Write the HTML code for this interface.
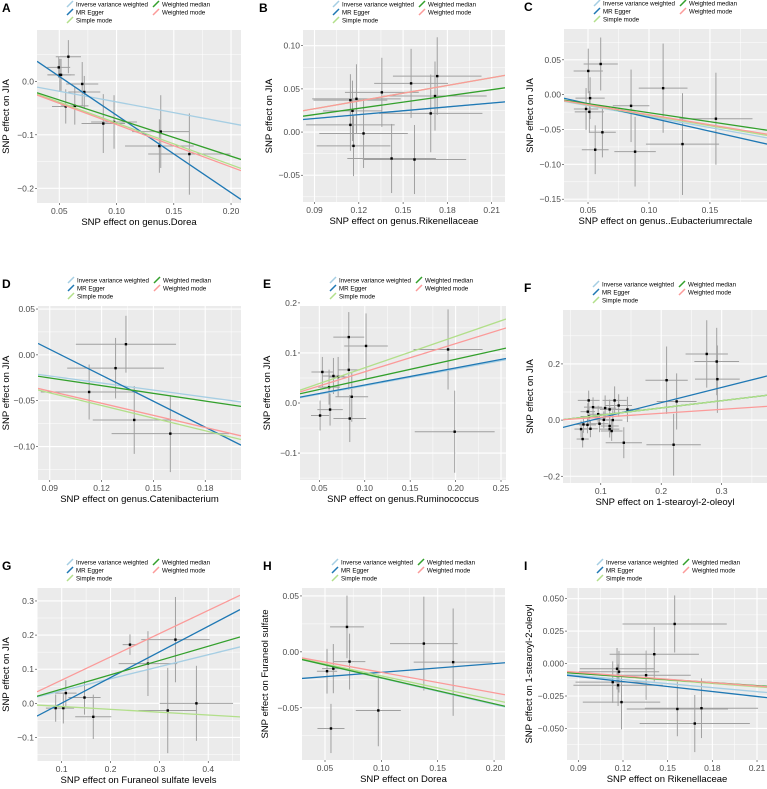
<!DOCTYPE html>
<html><head><meta charset="utf-8"><style>
html,body{margin:0;padding:0;background:#fff;}
svg{display:block;font-family:"Liberation Sans",Arial,sans-serif;}
</style></head><body>
<svg id="fig" width="767" height="789" viewBox="0 0 767 789" xmlns="http://www.w3.org/2000/svg"></svg>
<script>
// ---- data ----
const methods = ["Inverse variance weighted","MR Egger","Simple mode","Weighted median","Weighted mode"];
const methodColors = ["#a6cee3","#1f78b4","#b2df8a","#33a02c","#fb9a99"];

const A_x=[0.0495,0.0579,0.0504,0.0515,0.070,0.0718,0.0556,0.0635,0.0884,0.0978,0.1374,0.1386,0.1636];
const A_y=[0.026,0.046,0.012,0.012,-0.005,-0.020,-0.047,-0.046,-0.079,-0.076,-0.121,-0.094,-0.136];
const A_sx=[0.010,0.011,0.010,0.012,0.014,0.014,0.012,0.012,0.019,0.020,0.030,0.025,0.036];
const A_sy=[0.020,0.031,0.030,0.030,0.041,0.030,0.032,0.035,0.055,0.050,0.050,0.068,0.076];
const A_slope=[-0.40,-1.449,-0.78,-0.70,-0.794];
const A_int=[0.0014,0.0816,0,0,-0.0014];
const A_xticks=[0.05,0.10,0.15,0.20], A_xtl=["0.05","0.10","0.15","0.20"];
const A_yticks=[0.0,-0.1,-0.2], A_ytl=["0.0","\u22120.1","\u22120.2"];

const B_x=[0.1143,0.1143,0.1157,0.1184,0.1164,0.1232,0.1356,0.1554,0.1731,0.1716,0.1687,0.1422,0.1577];
const B_y=[0.037,0.0083,0.0246,0.0385,-0.016,-0.0016,0.046,0.0564,0.0648,0.0417,0.0216,-0.0306,-0.0318];
const B_sx=[0.025,0.030,0.020,0.030,0.025,0.030,0.025,0.025,0.030,0.035,0.035,0.030,0.035];
const B_sy=[0.030,0.030,0.035,0.040,0.035,0.040,0.040,0.040,0.045,0.040,0.045,0.040,0.040];
const B_slope=[0.149,0.149,0.30,0.2405,0.30];
const B_int=[0.0023,0.0023,0,-0.0014,0];
const B_xticks=[0.09,0.12,0.15,0.18,0.21], B_xtl=["0.09","0.12","0.15","0.18","0.21"];
const B_yticks=[0.10,0.05,0.00,-0.05], B_ytl=["0.10","0.05","0.00","\u22120.05"];

const C_x=[0.0502,0.0604,0.0517,0.0484,0.0511,0.0618,0.0559,0.0853,0.0886,0.1116,0.1275,0.1549];
const C_y=[0.034,0.044,-0.005,-0.0205,-0.0247,-0.054,-0.079,-0.016,-0.0818,0.0093,-0.0709,-0.0345];
const C_sx=[0.012,0.014,0.012,0.010,0.012,0.011,0.011,0.015,0.017,0.020,0.030,0.030];
const C_sy=[0.032,0.038,0.030,0.030,0.030,0.036,0.035,0.052,0.050,0.064,0.073,0.066];
const C_slope=[-0.315,-0.395,-0.297,-0.259,-0.288];
const C_int=[0,0.0068,0,0,0];
const C_xticks=[0.05,0.10,0.15], C_xtl=["0.05","0.10","0.15"];
const C_yticks=[0.05,0.00,-0.05,-0.10,-0.15], C_ytl=["0.05","0.00","\u22120.05","\u22120.10","\u22120.15"];

const D_x=[0.1341,0.1281,0.1128,0.1389,0.1598];
const D_y=[0.0116,-0.0145,-0.0405,-0.071,-0.0859];
const D_sx=[0.029,0.028,0.028,0.024,0.034];
const D_sy=[0.031,0.033,0.030,0.037,0.042];
const D_slope=[-0.256,-0.944,-0.46,-0.28,-0.44];
const D_int=[0,0.091,0,0,0];
const D_xticks=[0.09,0.12,0.15,0.18], D_xtl=["0.09","0.12","0.15","0.18"];
const D_yticks=[0.05,0.00,-0.05,-0.10], D_ytl=["0.05","0.00","\u22120.05","\u22120.10"];

const E_x=[0.0533,0.0824,0.1014,0.0824,0.0655,0.0707,0.0607,0.0857,0.0618,0.0508,0.0835,0.1917,0.1990];
const E_y=[0.062,0.1317,0.114,0.0663,0.054,0.052,0.0317,0.0125,-0.0131,-0.025,-0.031,0.107,-0.0573];
const E_sx=[0.012,0.017,0.024,0.012,0.012,0.010,0.012,0.018,0.014,0.010,0.018,0.038,0.044];
const E_sy=[0.030,0.050,0.065,0.040,0.036,0.040,0.035,0.050,0.032,0.030,0.047,0.080,0.082];
const E_slope=[0.335,0.34,0.627,0.402,0.563];
const E_int=[0.001,0.002,0.0076,0.007,0.006];
const E_xticks=[0.05,0.10,0.15,0.20,0.25], E_xtl=["0.05","0.10","0.15","0.20","0.25"];
const E_yticks=[0.2,0.1,0.0,-0.1], E_ytl=["0.2","0.1","0.0","\u22120.1"];

const F_x=[0.2753,0.2918,0.2929,0.2089,0.2255,0.2205,0.1381,0.080,0.0872,0.1072,0.1229,0.1296,0.1147,0.1441,0.0785,0.0806,0.0713,0.078,0.0957,0.105,0.1199,0.0979,0.0829,0.0674,0.1147,0.1147,0.118,0.070];
const F_y=[0.2355,0.2085,0.1457,0.142,0.0664,-0.0877,-0.0806,0.07,0.046,0.0428,0.07,0.052,0.038,0.038,0.030,0.013,-0.0153,-0.017,0.021,0.001,0.0,-0.013,-0.031,-0.032,-0.021,-0.032,-0.039,-0.0675];
const F_sx=[0.035,0.037,0.037,0.035,0.033,0.045,0.030,0.018,0.015,0.018,0.020,0.022,0.016,0.020,0.012,0.014,0.012,0.014,0.015,0.017,0.016,0.015,0.012,0.011,0.015,0.016,0.018,0.010];
const F_sy=[0.12,0.12,0.12,0.12,0.10,0.11,0.055,0.035,0.035,0.045,0.05,0.04,0.035,0.045,0.03,0.03,0.03,0.03,0.03,0.03,0.035,0.03,0.03,0.03,0.03,0.03,0.035,0.03];
const F_slope=[0.257,0.542,0.257,0.257,0.141];
const F_int=[-0.008,-0.0463,-0.008,-0.008,-0.004];
const F_xticks=[0.1,0.2,0.3], F_xtl=["0.1","0.2","0.3"];
const F_yticks=[0.2,0.0,-0.2], F_ytl=["0.2","0.0","\u22120.2"];

const G_x=[0.2398,0.3329,0.2766,0.1085,0.1467,0.0877,0.1034,0.1647,0.3171,0.3758];
const G_y=[0.172,0.1867,0.1165,0.030,0.017,-0.014,-0.014,-0.0395,-0.021,0.0];
const G_sx=[0.015,0.070,0.060,0.022,0.033,0.020,0.022,0.037,0.060,0.075];
const G_sy=[0.030,0.125,0.095,0.038,0.050,0.040,0.045,0.065,0.125,0.110];
const G_slope=[0.352,0.751,-0.083,0.418,0.681];
const G_int=[0.0016,-0.0746,-0.001,0,0];
const G_xticks=[0.1,0.2,0.3,0.4], G_xtl=["0.1","0.2","0.3","0.4"];
const G_yticks=[0.3,0.2,0.1,0.0,-0.1], G_ytl=["0.3","0.2","0.1","0.0","\u22120.1"];

const H_x=[0.0695,0.0718,0.0518,0.0574,0.0553,0.0973,0.1377,0.1637];
const H_y=[0.0223,-0.0087,-0.0173,-0.015,-0.0685,-0.0524,0.0074,-0.0092];
const H_sx=[0.015,0.014,0.009,0.010,0.012,0.020,0.030,0.035];
const H_sy=[0.028,0.025,0.020,0.022,0.022,0.032,0.042,0.048];
const H_slope=[-0.235,0.078,-0.215,-0.232,-0.183];
const H_int=[0,-0.0261,0,0,0];
const H_xticks=[0.05,0.10,0.15,0.20], H_xtl=["0.05","0.10","0.15","0.20"];
const H_yticks=[0.05,0.00,-0.05], H_ytl=["0.05","0.00","\u22120.05"];

const I_x=[0.1547,0.1410,0.116,0.1173,0.1355,0.1131,0.1167,0.119,0.1565,0.1727,0.1682];
const I_y=[0.0305,0.0072,-0.004,-0.0063,-0.009,-0.0143,-0.0167,-0.0297,-0.035,-0.0344,-0.0462];
const I_sx=[0.035,0.030,0.025,0.027,0.030,0.025,0.030,0.026,0.034,0.038,0.037];
const I_sy=[0.022,0.021,0.016,0.016,0.019,0.016,0.016,0.021,0.021,0.023,0.022];
const I_slope=[-0.103,-0.128,-0.085,-0.078,-0.087];
const I_int=[0,0.0015,0,-0.0006,0.001];
const I_xticks=[0.09,0.12,0.15,0.18,0.21], I_xtl=["0.09","0.12","0.15","0.18","0.21"];
const I_yticks=[0.050,0.025,0.000,-0.025,-0.050], I_ytl=["0.050","0.025","0.000","\u22120.025","\u22120.050"];

// ---- layout (pixel boxes + axis limits) ----
const panels=[
 {id:"a",letter:"A",lx:2,L:37,T:30,R:241,B:203,xlim:[0.0305,0.2087],ylim:[-0.2275,0.0959],x:A_x,y:A_y,sx:A_sx,sy:A_sy,sl:A_slope,it:A_int,xt:A_xticks,xtl:A_xtl,yt:A_yticks,ytl:A_ytl,xlab:"SNP effect on genus.Dorea",ylab:"SNP effect on JIA",yx:5},
 {id:"b",letter:"B",lx:259,L:303,T:30,R:505,B:202,xlim:[0.0822,0.219],ylim:[-0.081,0.1182],x:B_x,y:B_y,sx:B_sx,sy:B_sy,sl:B_slope,it:B_int,xt:B_xticks,xtl:B_xtl,yt:B_yticks,ytl:B_ytl,xlab:"SNP effect on genus.Rikenellaceae",ylab:"SNP effect on JIA",yx:268},
 {id:"c",letter:"C",lx:524,L:564,T:29,R:767,B:202,xlim:[0.0303,0.1968],ylim:[-0.154,0.0942],x:C_x,y:C_y,sx:C_sx,sy:C_sy,sl:C_slope,it:C_int,xt:C_xticks,xtl:C_xtl,yt:C_yticks,ytl:C_ytl,xlab:"SNP effect on genus..Eubacteriumrectale",ylab:"SNP effect on JIA",yx:529},
 {id:"d",letter:"D",lx:2,L:38,T:306,R:241,B:480,xlim:[0.0832,0.2007],ylim:[-0.1365,0.0533],x:D_x,y:D_y,sx:D_sx,sy:D_sy,sl:D_slope,it:D_int,xt:D_xticks,xtl:D_xtl,yt:D_yticks,ytl:D_ytl,xlab:"SNP effect on genus.Catenibacterium",ylab:"SNP effect on JIA",yx:5},
 {id:"e",letter:"E",lx:263,L:300,T:306,R:506,B:480,xlim:[0.0287,0.2555],ylim:[-0.1538,0.1938],x:E_x,y:E_y,sx:E_sx,sy:E_sy,sl:E_slope,it:E_int,xt:E_xticks,xtl:E_xtl,yt:E_yticks,ytl:E_ytl,xlab:"SNP effect on genus.Ruminococcus",ylab:"SNP effect on JIA",yx:266},
 {id:"f",letter:"F",lx:524,L:563,T:310,R:767,B:483,xlim:[0.0375,0.375],ylim:[-0.224,0.392],x:F_x,y:F_y,sx:F_sx,sy:F_sy,sl:F_slope,it:F_int,xt:F_xticks,xtl:F_xtl,yt:F_yticks,ytl:F_ytl,xlab:"SNP effect on 1-stearoyl-2-oleoyl",ylab:"SNP effect on JIA",yx:529,order:[0,3,1,2,4]},
 {id:"g",letter:"G",lx:2,L:37,T:588,R:240,B:761,xlim:[0.0495,0.465],ylim:[-0.169,0.338],x:G_x,y:G_y,sx:G_sx,sy:G_sy,sl:G_slope,it:G_int,xt:G_xticks,xtl:G_xtl,yt:G_yticks,ytl:G_ytl,xlab:"SNP effect on Furaneol sulfate levels",ylab:"SNP effect on JIA",yx:5},
 {id:"h",letter:"H",lx:263,L:302,T:588,R:505,B:760,xlim:[0.0296,0.2097],ylim:[-0.0967,0.0571],x:H_x,y:H_y,sx:H_sx,sy:H_sy,sl:H_slope,it:H_int,xt:H_xticks,xtl:H_xtl,yt:H_yticks,ytl:H_ytl,xlab:"SNP effect on Dorea",ylab:"SNP effect on Furaneol sulfate",yx:264},
 {id:"i",letter:"I",lx:524,L:567,T:588,R:767,B:760,xlim:[0.0824,0.2167],ylim:[-0.0743,0.0582],x:I_x,y:I_y,sx:I_sx,sy:I_sy,sl:I_slope,it:I_int,xt:I_xticks,xtl:I_xtl,yt:I_yticks,ytl:I_ytl,xlab:"SNP effect on Rikenellaceae",ylab:"SNP effect on 1-stearoyl-2-oleoyl",yx:528}
];

const NS="http://www.w3.org/2000/svg";
const svg=document.getElementById("fig");
function mk(tag,attrs,parent){const e=document.createElementNS(NS,tag);for(const k in attrs)e.setAttribute(k,attrs[k]);(parent||svg).appendChild(e);return e;}

panels.forEach(p=>{
  const g=mk("g",{});
  
  
  const xs=v=>p.L+(v-p.xlim[0])/(p.xlim[1]-p.xlim[0])*(p.R-p.L);
  const ys=v=>p.B-(v-p.ylim[0])/(p.ylim[1]-p.ylim[0])*(p.B-p.T);
  const cid="clip-"+p.id;
  const cp=mk("clipPath",{id:cid},g);
  mk("rect",{x:p.L,y:p.T,width:p.R-p.L,height:p.B-p.T},cp);
  const bg=mk("rect",{x:p.L,y:p.T,width:p.R-p.L,height:p.B-p.T,fill:"#ebebeb"},g);
  
  
  const xstep=p.xt[1]-p.xt[0], ystep=p.yt[0]-p.yt[1];
  for(let v=p.xt[0]-xstep*1.5;v<=p.xlim[1];v+=xstep){if(v>=p.xlim[0])mk("line",{x1:xs(v),x2:xs(v),y1:p.T,y2:p.B,stroke:"#fff","stroke-width":0.5},g);}
  for(let v=p.yt[p.yt.length-1]-ystep*1.5;v<=p.ylim[1];v+=ystep){if(v>=p.ylim[0])mk("line",{x1:p.L,x2:p.R,y1:ys(v),y2:ys(v),stroke:"#fff","stroke-width":0.5},g);}
  p.xt.forEach((v,i)=>{
    mk("line",{x1:xs(v),x2:xs(v),y1:p.T,y2:p.B,stroke:"#fff","stroke-width":1.1},g);
    mk("line",{x1:xs(v),x2:xs(v),y1:p.B,y2:p.B+2,stroke:"#333","stroke-width":0.6},g);
    const t=mk("text",{x:xs(v),y:p.B+11,"font-size":8.5,fill:"#4d4d4d","text-anchor":"middle"},g);
    t.textContent=p.xtl[i];
    
    
  });
  p.yt.forEach((v,i)=>{
    mk("line",{x1:p.L,x2:p.R,y1:ys(v),y2:ys(v),stroke:"#fff","stroke-width":1.1},g);
    mk("line",{x1:p.L-2,x2:p.L,y1:ys(v),y2:ys(v),stroke:"#333","stroke-width":0.6},g);
    const t=mk("text",{x:p.L-3,y:ys(v)+3,"font-size":8.5,fill:"#4d4d4d","text-anchor":"end"},g);
    t.textContent=p.ytl[i];
    
    
  });
  const inner=mk("g",{"clip-path":"url(#"+cid+")"},g);
  p.x.forEach((xv,i)=>{
    const yv=p.y[i];
    const eb=mk("g",{stroke:"#a0a0a0","stroke-width":1},inner);
    
    
    mk("line",{x1:xs(xv),x2:xs(xv),y1:ys(yv-p.sy[i]),y2:ys(yv+p.sy[i])},eb);
    mk("line",{x1:xs(xv-p.sx[i]),x2:xs(xv+p.sx[i]),y1:ys(yv),y2:ys(yv)},eb);
  });
  p.x.forEach((xv,i)=>{
    const c=mk("rect",{x:xs(xv)-1.2,y:ys(p.y[i])-1.2,width:2.4,height:2.4,fill:"#000"},inner);
    
    
  });
  const order=p.order||[0,1,2,3,4];
  order.forEach(k=>{
    const s=p.sl[k];
    const x0=p.xlim[0],x1=p.xlim[1];
    const l=mk("line",{x1:xs(x0),y1:ys(p.it[k]+s*x0),x2:xs(x1),y2:ys(p.it[k]+s*x1),stroke:methodColors[k],"stroke-width":1.3},inner);
    
    
  });
  const xt=mk("text",{x:(p.L+p.R)/2,y:p.B+22,"font-size":9.5,fill:"#000","text-anchor":"middle"},g);
  xt.textContent=p.xlab;
  
  
  const yc=(p.T+p.B)/2;
  const yt=mk("text",{x:p.yx+4,y:yc,"font-size":9.5,fill:"#000","text-anchor":"middle",transform:"rotate(-90 "+(p.yx+4)+" "+yc+")"},g);
  yt.textContent=p.ylab;
  
  
  const lt=mk("text",{x:p.lx,y:p.T-18,"font-size":12,"font-weight":"bold",fill:"#000"},g);
  lt.textContent=p.letter;
  
  
  const lg=mk("g",{},g);
  
  
  const pos=[[0,0],[0,1],[0,2],[1,0],[1,1]];
  methods.forEach((m,k)=>{
    const lx=p.L+30+pos[k][0]*86, ly=p.T-26+pos[k][1]*8;
    const e=mk("g",{},lg);
    
    
    mk("line",{x1:lx,y1:ly+3,x2:lx+6,y2:ly-3,stroke:methodColors[k],"stroke-width":1.5},e);
    const t=mk("text",{x:lx+9,y:ly+2.5,"font-size":6.2,fill:"#000"},e);
    t.textContent=m;
  });
});
</script>
</body></html>
